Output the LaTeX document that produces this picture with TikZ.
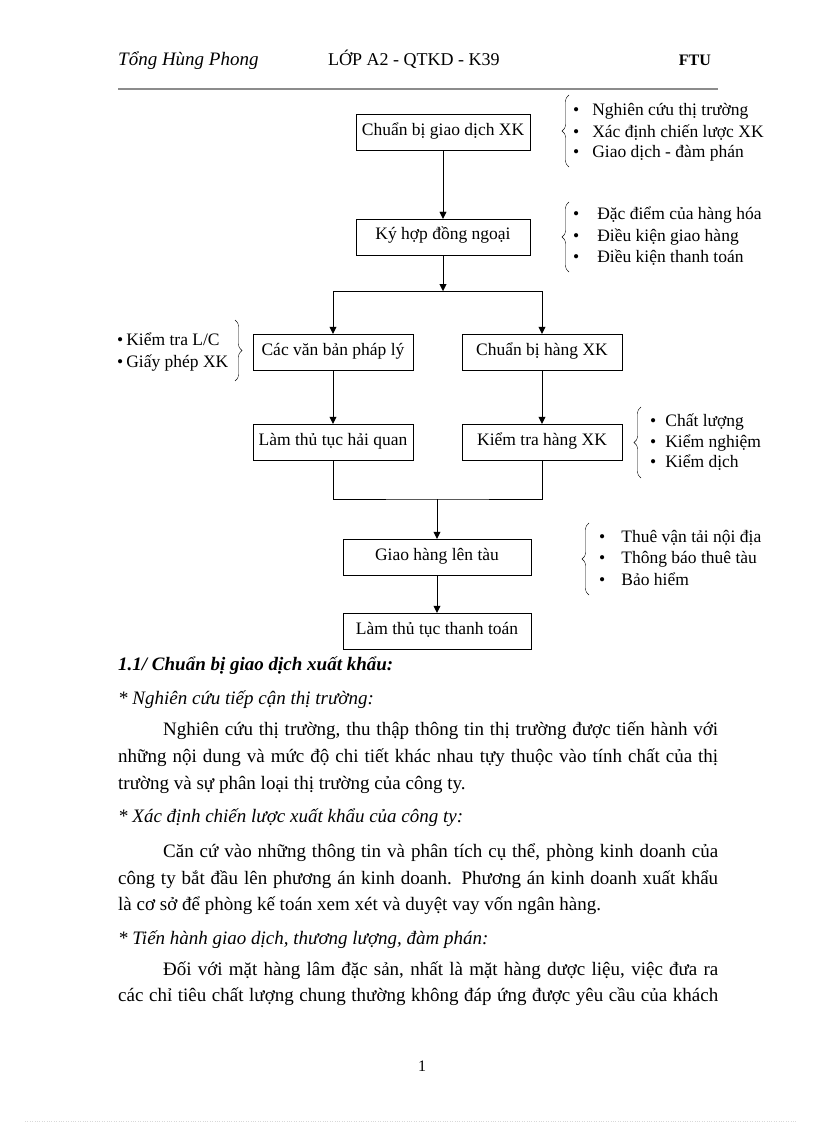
\documentclass[tikz,border=0pt]{standalone}
\usepackage{fontspec}
\setmainfont{Liberation Serif}
\usetikzlibrary{arrows.meta,decorations.pathreplacing}
\tikzstyle{box}=[rectangle,draw,thin,inner sep=0pt,minimum height=36pt,text height=11pt,text depth=5pt,font=\fontsize{17.5}{20}\selectfont]
\tikzstyle{arr}=[-{Triangle[length=7pt,width=7pt]}]
\tikzstyle{item}=[inner sep=0pt,anchor=base west,font=\fontsize{17.5}{20}\selectfont]
\tikzstyle{curly}=[thin,decorate,decoration={brace,amplitude=7pt}]
\tikzstyle{line}=[inner sep=0pt,anchor=base west,font=\fontsize{19}{22}\selectfont]
\newcommand{\bul}[1]{\textbullet\hspace{#1}}

\begin{document}
\begin{tikzpicture}[x=1pt,y=-1pt]
  \useasboundingbox (0,0) rectangle (816,1123);

  % header
  \node[line,font=\fontsize{19}{20}\selectfont\itshape] (author) at (118,66) {Tổng Hùng Phong};
  \node[line,font=\fontsize{18}{20}\selectfont] (class) at (328,66) {LỚP A2 - QTKD - K39};
  \node[line,anchor=base east,font=\fontsize{16}{20}\selectfont\bfseries] (school) at (711,66) {FTU};
  \draw[black!45,line width=1.5pt] (118,89) -- (718,89);

  \node[box,minimum width=174pt] (prepare) at (443,132.5) {Chuẩn bị giao dịch XK};
  \node[box,minimum width=174pt] (contract) at (443,237) {Ký hợp đồng ngoại};
  \node[box,minimum width=160pt] (legal) at (333,352) {Các văn bản pháp lý};
  \node[box,minimum width=160pt] (goods) at (542,352) {Chuẩn bị hàng XK};
  \node[box,minimum width=160pt] (customs) at (333,442) {Làm thủ tục hải quan};
  \node[box,minimum width=160pt] (check) at (542,442) {Kiểm tra hàng XK};
  \node[box,minimum width=188pt] (ship) at (437,557) {Giao hàng lên tàu};
  \node[box,minimum width=188pt] (pay) at (437,631) {Làm thủ tục thanh toán};

  \coordinate (split) at (443,291);
  \coordinate (merge) at (437,499);

  \draw[arr] (prepare) -- (contract);
  \draw[arr] (contract) -- (split);
  \draw[arr] (split) -| (legal);
  \draw[arr] (split) -| (goods);
  \draw[arr] (legal) -- (customs);
  \draw[arr] (goods) -- (check);
  \draw (customs) |- (merge) -| (check);
  \draw[arr] (merge) -- (ship);
  \draw[arr] (ship) -- (pay);

  % bullet lists
  \foreach \yy/\txt [count=\i] in {116/Nghiên cứu thị trường,138/Xác định chiến lược XK,158/Giao dịch - đàm phán}
    \node[item] (prepare item \i) at (573,\yy) {\bul{13pt}\txt};
  \foreach \yy/\txt [count=\i] in {220/Đặc điểm của hàng hóa,241/Điều kiện giao hàng,262/Điều kiện thanh toán}
    \node[item] (contract item \i) at (573,\yy) {\bul{18pt}\txt};
  \foreach \yy/\txt [count=\i] in {345/{Kiểm tra L/C},367/{Giấy phép XK}}
    \node[item] (legal item \i) at (117,\yy) {\bul{3pt}\txt};
  \foreach \yy/\txt [count=\i] in {426/Chất lượng,447/Kiểm nghiệm,467/Kiểm dịch}
    \node[item] (check item \i) at (650,\yy) {\bul{9pt}\txt};
  \foreach \yy/\txt [count=\i] in {542/Thuê vận tải nội địa,563/Thông báo thuê tàu,585/Bảo hiểm}
    \node[item] (ship item \i) at (599,\yy) {\bul{16pt}\txt};

  \draw[curly] (569,167) -- (569,95);
  \draw[curly] (569,272) -- (569,202);
  \draw[curly] (235,320) -- (235,381);
  \draw[curly] (641,478) -- (641,407);
  \draw[curly] (589,595) -- (589,523);

  % text below the chart
  \node[line,font=\fontsize{19}{22}\selectfont\bfseries\itshape] (title) at (118,670) {1.1/ Chuẩn bị giao dịch xuất khẩu:};
  \node[line,font=\fontsize{19}{22}\selectfont\itshape] (sub 1) at (118,704) {* Nghiên cứu tiếp cận thị trường:};
  \node[line,font=\fontsize{19}{22}\selectfont\itshape] (sub 2) at (118,822) {* Xác định chiến lược xuất khẩu của công ty:};
  \node[line,font=\fontsize{19}{22}\selectfont\itshape] (sub 3) at (118,944) {* Tiến hành giao dịch, thương lượng, đàm phán:};

  \foreach \xx/\yy/\txt [count=\i] in {
    163/735/{Nghiên cứu thị trường, thu thập thông tin thị trường được tiến hành với},
    118/762/{những nội dung và mức độ chi tiết khác nhau tựy thuộc vào tính chất của thị},
    163/857/{Căn cứ vào những thông tin và phân tích cụ thể, phòng kinh doanh của},
    118/884/{công ty bắt đầu lên phương án kinh doanh. Phương án kinh doanh xuất khẩu},
    163/975/{Đối với mặt hàng lâm đặc sản, nhất là mặt hàng dược liệu, việc đưa ra},
    118/1001/{các chỉ tiêu chất lượng chung thường không đáp ứng được yêu cầu của khách}}
    \node[line] (body \i) at (\xx,\yy) {\makebox[\dimexpr718pt-\xx pt\relax][s]{\txt}};
  \node[line] (body end 1) at (118,789) {trường và sự phân loại thị trường của công ty.};
  \node[line] (body end 2) at (118,910) {là cơ sở để phòng kế toán xem xét và duyệt vay vốn ngân hàng.};

  \node[line,anchor=base,font=\fontsize{16}{20}\selectfont] (page) at (422,1071) {1};
  \draw[black!15,dotted] (25,1121) -- (796,1121);
\end{tikzpicture}
\end{document}
